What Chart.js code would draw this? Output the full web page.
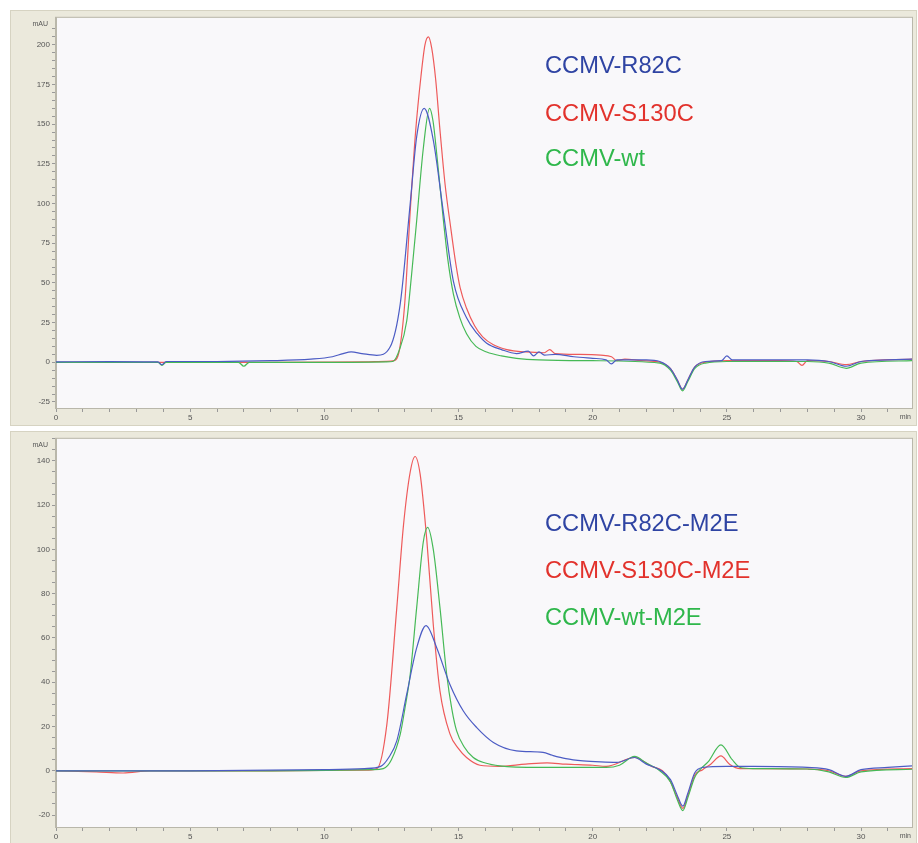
<!DOCTYPE html>
<html>
<head>
<meta charset="utf-8">
<script src="https://cdn.jsdelivr.net/npm/chart.js@4.4.1/dist/chart.umd.min.js"></script>
<style>
  body { margin: 0; background: #fff; width: 918px; height: 843px; position: relative; overflow: hidden; }
  .panel { position: absolute; left: 10px; width: 905px; background: #ebe9dc; border: 1px solid #d6d3c2; }
  .panel canvas { position: absolute; left: 0; top: 0; }
  .tag { position: absolute; left: 545px; font-family: 'Liberation Sans', Arial, sans-serif; font-size: 23.7px; line-height: 24px; white-space: nowrap; }
</style>
</head>
<body>
<div class="panel" style="top:10px;height:414px"><canvas id="topChart" width="905" height="414"></canvas></div>
<div class="panel" style="top:431px;height:412px"><canvas id="botChart" width="905" height="412"></canvas></div>

<div class="tag" style="top:53px;color:#2f44a3">CCMV-R82C</div>
<div class="tag" style="top:101px;color:#e2322c">CCMV-S130C</div>
<div class="tag" style="top:146px;color:#2fb74b">CCMV-wt</div>
<div class="tag" style="top:511px;color:#2f44a3">CCMV-R82C-M2E</div>
<div class="tag" style="top:558px;color:#e2322c">CCMV-S130C-M2E</div>
<div class="tag" style="top:605px;color:#2fb74b">CCMV-wt-M2E</div>

<script>
// ---- top panel: retention time (min) / absorbance (mAU) ----
const r82cT = [0, 2, 3.8, 3.95, 4.1, 6, 8, 9.5, 10.3, 10.7, 11.0, 11.4, 11.95, 12.45, 12.83, 13.2, 13.44, 13.72, 14.06, 14.44, 14.81, 15.3, 15.7, 16.05, 16.6, 17.16, 17.6, 17.8, 18.0, 18.2, 18.6, 19.3, 20.0, 20.5, 20.7, 20.9, 21.3, 22.0, 22.5, 22.9, 23.15, 23.35, 23.55, 23.8, 24.2, 24.8, 25.0, 25.2, 26, 28, 28.8, 29.45, 30.0, 31.0, 31.9];
const r82cV = [0.3, 0.4, 0.2, -1.5, 0.5, 0.5, 1, 2, 3.5, 5.5, 6.5, 5.5, 4.4, 9.6, 37, 100, 142, 160, 140, 94, 51, 28, 18, 12, 8, 5.5, 7, 4, 6.5, 4.5, 5, 3.5, 2.5, 1.5, -1, 1.5, 1.5, 1.5, 0.5, -4, -11, -17, -11, -3, 0.5, 1, 4, 1.5, 1.5, 1.5, 0.5, -2.5, 0.5, 1.5, 2];

const s130cT = [0, 2, 4, 6, 8, 10, 11.5, 12.3, 12.6, 12.8, 13.0, 13.2, 13.4, 13.6, 13.75, 13.88, 14.0, 14.15, 14.3, 14.5, 14.7, 14.9, 15.06, 15.3, 15.6, 15.9, 16.3, 16.8, 17.5, 18.2, 18.4, 18.6, 19.5, 20.3, 20.7, 20.9, 21.2, 21.8, 22.5, 22.9, 23.15, 23.35, 23.55, 23.8, 24.2, 25, 27, 27.6, 27.8, 28.0, 28.8, 29.45, 30.0, 31.9];
const s130cV = [0, 0, 0, 0, 0, 0.1, 0.3, 0.6, 1, 8, 38, 95, 145, 180, 200, 205, 198, 178, 148, 112, 86, 62, 47, 34, 23, 16, 11, 8, 6.5, 6, 8, 5.5, 5, 4.5, 3.5, 1, 2, 1, 0, -4, -11, -17, -11, -3, 0, 1, 1, 0.5, -2, 1, 0.5, -1.5, 0.5, 2];

const wtT = [0, 2, 3.8, 3.95, 4.1, 6.8, 7.0, 7.2, 9, 11, 12.3, 12.55, 12.8, 13.07, 13.25, 13.44, 13.69, 13.92, 14.05, 14.19, 14.44, 14.6, 14.81, 15.05, 15.3, 15.65, 16.05, 16.6, 17.16, 18, 20, 22.5, 22.9, 23.15, 23.35, 23.55, 23.8, 24.2, 25, 28, 28.8, 29.45, 30.0, 31.9];
const wtV = [0, 0, 0, -2, 0, 0, -2.5, 0, 0, 0, 0.2, 0.5, 8, 26, 55, 89, 135, 160, 152, 131, 89, 65, 43, 28, 18, 10, 6.5, 4, 2.5, 1.5, 1, -0.5, -5, -12, -18, -12, -4, -0.5, 0.5, 0.5, -0.5, -3.8, -0.5, 1];

// ---- bottom panel ----
const r82cM2eT = [0, 5, 10, 11.5, 12.1, 12.4, 12.7, 13.07, 13.44, 13.79, 14.19, 14.68, 15.18, 15.68, 16.3, 17.16, 18.15, 18.5, 19.0, 19.64, 20.3, 20.9, 21.56, 22.0, 22.5, 22.9, 23.15, 23.36, 23.55, 23.8, 24.1, 25, 26, 28, 28.8, 29.43, 30, 31.0, 31.9];
const r82cM2eV = [0, 0, 0.5, 1, 2, 6, 13.5, 34.6, 55.5, 65.6, 55.5, 39, 27, 19.5, 12.8, 9, 8.3, 7, 5.5, 4.5, 4, 3.8, 6, 3, 0.5, -4, -11, -16, -10, -1, 1.5, 2, 2, 1.5, 0.5, -2.5, 0.5, 1.5, 2.2];

const s130cM2eT = [0, 1.5, 2.5, 3.5, 8, 11.5, 11.96, 12.33, 12.7, 12.95, 13.2, 13.38, 13.57, 13.82, 14.06, 14.31, 14.68, 15.0, 15.3, 15.8, 16.5, 17.5, 18.3, 19, 20, 20.5, 21.56, 22.2, 22.6, 22.9, 23.15, 23.36, 23.55, 23.8, 24.1, 24.4, 24.78, 25.1, 25.5, 26, 28, 28.8, 29.43, 30, 31.9];
const s130cM2eV = [0, -0.5, -1, 0, 0, 0.3, 1, 21, 73.6, 111, 135, 142, 134, 104, 66, 36, 16.7, 10, 6, 2.5, 2, 3, 3.6, 3, 2.5, 2, 6, 2, 0, -5, -12, -17, -11, -2, 0.5, 3, 6.7, 3, 1, 1, 0.8, 0, -2.5, 0, 1];

const wtM2eT = [0, 8, 11.8, 12.2, 12.5, 12.83, 13.0, 13.2, 13.44, 13.69, 13.85, 14.06, 14.31, 14.56, 14.75, 14.93, 15.2, 15.55, 16.0, 16.54, 18, 20.5, 21.0, 21.56, 22.0, 22.5, 22.9, 23.15, 23.36, 23.55, 23.8, 24.0, 24.3, 24.78, 25.2, 25.5, 26, 28, 28.8, 29.43, 30, 31.9];
const wtM2eV = [0, 0, 0.5, 1, 5, 16.6, 28, 43.5, 73.6, 103.6, 110, 100, 73.6, 43.5, 28, 18, 11, 6, 3.5, 2.2, 1.5, 1.5, 2.5, 6.5, 3.5, 0, -5, -13, -18, -12, -3, 0.5, 4, 11.7, 5, 1.5, 1, 0.8, -0.5, -3, -0.5, 0.7];

const topTicks = [-25, 0, 25, 50, 75, 100, 125, 150, 175, 200];
const botTicks = [-20, 0, 20, 40, 60, 80, 100, 120, 140];
const timeTicks = [0, 5, 10, 15, 20, 25, 30];

const BLUE = '#4c5cc4', RED = '#ee5a5a', GREEN = '#46b956';
const FONT = { family: "'Liberation Sans', Arial, sans-serif", size: 8 };

const pts = (t, v) => t.map((x, i) => ({ x, y: v[i] }));
const range = (a, b, s) => { const out = []; for (let v = a; v <= b + 1e-9; v += s) out.push(+v.toFixed(3)); return out; };

// plot area fill + frame, plus the "mAU" / "min" unit labels
const frame = {
  id: 'frame',
  beforeDraw(chart) {
    const { ctx, chartArea: a } = chart;
    ctx.save();
    ctx.fillStyle = '#f9f8fa';
    ctx.fillRect(a.left, a.top, a.right - a.left, a.bottom - a.top);
    ctx.restore();
  },
  afterDraw(chart) {
    const { ctx, chartArea: a } = chart;
    ctx.save();
    ctx.strokeStyle = '#b9b7aa';
    ctx.lineWidth = 1;
    ctx.strokeRect(a.left - 0.5, a.top - 0.5, a.right - a.left + 1, a.bottom - a.top + 1);
    ctx.fillStyle = '#555';
    ctx.font = "7px 'Liberation Sans', Arial, sans-serif";
    ctx.textAlign = 'right';
    ctx.textBaseline = 'middle';
    ctx.fillText('mAU', a.left - 8, a.top + 6);
    ctx.fillText('min', a.right - 1, a.bottom + 9);
    ctx.restore();
  },
};

function build(id, series, yMin, yMax, yStep, majors) {
  return new Chart(document.getElementById(id), {
    type: 'line',
    data: {
      datasets: series.map(([t, v, color]) => ({
        data: pts(t, v), borderColor: color, borderWidth: 1.2,
        pointRadius: 0, cubicInterpolationMode: 'monotone', fill: false,
      })),
    },
    options: {
      responsive: false, animation: false, events: [],
      layout: { padding: { top: 6, right: 4, left: 0, bottom: 0 } },
      plugins: { legend: { display: false }, tooltip: { enabled: false } },
      scales: {
        x: {
          type: 'linear', min: 0, max: 31.9,
          afterBuildTicks: (ax) => { ax.ticks = range(0, 31, 1).map((value) => ({ value })); },
          afterFit: (ax) => { ax.height = 17; },
          ticks: { autoSkip: false, maxRotation: 0, padding: 1, color: '#555', font: FONT,
            callback: (v) => (timeTicks.includes(v) ? v : '') },
          grid: { drawOnChartArea: false, tickLength: 4, tickColor: '#999' },
          border: { color: '#b9b7aa' },
        },
        y: {
          min: yMin, max: yMax,
          afterBuildTicks: (ax) => { ax.ticks = range(majors[0], majors[majors.length - 1] + yStep * 2, yStep).filter((v) => v <= yMax).map((value) => ({ value })); },
          afterFit: (ax) => { ax.width = 45; },
          ticks: { autoSkip: false, padding: 2, color: '#555', font: FONT,
            callback: (v) => (majors.includes(v) ? v : '') },
          grid: { drawOnChartArea: false, tickLength: 4, tickColor: '#999' },
          border: { color: '#b9b7aa' },
        },
      },
    },
    plugins: [frame],
  });
}

build('topChart', [[r82cT, r82cV, BLUE], [wtT, wtV, GREEN], [s130cT, s130cV, RED]], -28.8, 217, 5, topTicks);
build('botChart', [[r82cM2eT, r82cM2eV, BLUE], [wtM2eT, wtM2eV, GREEN], [s130cM2eT, s130cM2eV, RED]], -25.4, 150, 5, botTicks);
</script>
</body>
</html>
